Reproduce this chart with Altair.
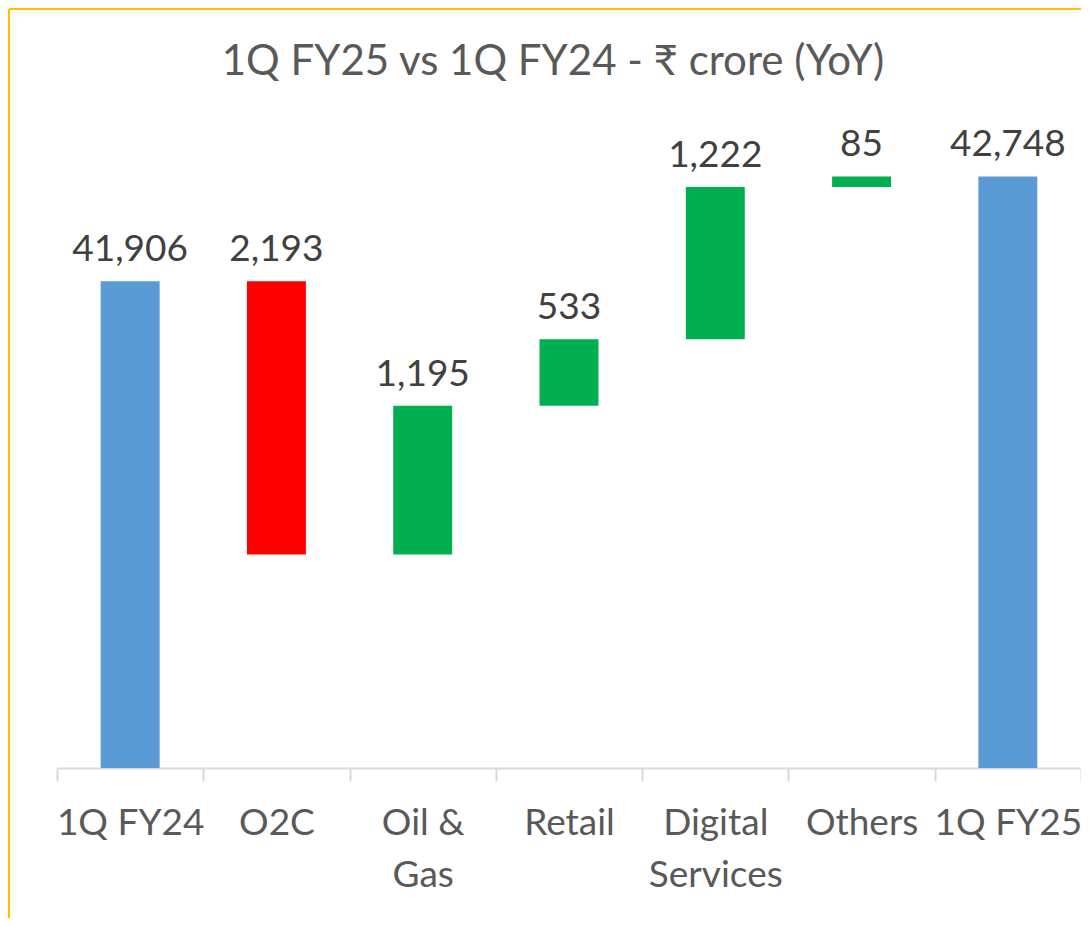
import altair as alt
import pandas as pd

categories = ["1Q FY24", "O2C", "Oil & Gas", "Retail", "Digital Services", "Others", "1Q FY25"]
changes = [41906, -2193, 1195, 533, 1222, 85, 42748]
kinds = ["total", "decrease", "increase", "increase", "increase", "increase", "total"]

rows = []
running = 0
for cat, val, kind in zip(categories, changes, kinds):
    if kind == "total":
        start, end = 0, val
        running = val
    else:
        start, end = running, running + val
        running = end
    rows.append({
        "category": cat, "start": start, "end": end, "kind": kind,
        "top": max(start, end), "label": f"{abs(val):,}",
    })
df = pd.DataFrame(rows)

FONT = "Lato"
x_enc = alt.X(
    "category:N", sort=categories, title=None,
    scale=alt.Scale(paddingInner=0, paddingOuter=0),
    axis=alt.Axis(
        labelAngle=0, labelFont=FONT, labelFontSize=37, labelColor="#595959",
        labelPadding=24, labelBaseline="top", labelLineHeight=52,
        labelExpr="datum.value == 'Oil & Gas' ? ['Oil &', 'Gas'] : datum.value == 'Digital Services' ? ['Digital', 'Services'] : datum.value",
        domainColor="#D9D9D9", domainWidth=2, tickColor="#D9D9D9", tickWidth=2,
        tickSize=13, tickBand="extent", grid=False,
    ),
)
y_scale = alt.Scale(domain=[38000, 43000], nice=False, zero=False)

bars = alt.Chart(df).mark_bar(width=alt.RelativeBandSize(0.403), clip=True).encode(
    x=x_enc,
    y=alt.Y("start:Q", scale=y_scale, axis=None),
    y2="end:Q",
    color=alt.Color(
        "kind:N",
        scale=alt.Scale(domain=["total", "decrease", "increase"],
                        range=["#5B9BD5", "#FF0000", "#00B050"]),
        legend=None,
    ),
)

labels = alt.Chart(df).mark_text(
    font=FONT, fontSize=37, color="#404040", baseline="alphabetic", dy=-20
).encode(
    x=alt.X("category:N", sort=categories),
    y=alt.Y("top:Q", scale=y_scale),
    text="label:N",
)

border_left = alt.Chart(df).mark_rule(color="#FFC000", strokeWidth=2).encode(
    x=alt.value(-48), y=alt.value(-136), y2=alt.value(910)
)
border_top = alt.Chart(df).mark_rule(color="#FFC000", strokeWidth=2).encode(
    x=alt.value(-48), x2=alt.value(1040), y=alt.value(-136)
)

chart = alt.layer(border_left, border_top, bars, labels).properties(
    width=1024, height=623,
    autosize=alt.AutoSizeParams(type="none"),
    padding={"left": 49, "top": 137, "right": 0, "bottom": 150},
    title=alt.TitleParams(
        "1Q FY25 vs 1Q FY24 - ₹ crore (YoY)", font=FONT, fontSize=42,
        fontWeight="normal", color="#595959", anchor="middle", dx=-16,
        baseline="alphabetic", offset=-109,
    ),
).configure_view(stroke=None)

chart.save("out.html", embed_options={"renderer": "svg", "actions": False})
